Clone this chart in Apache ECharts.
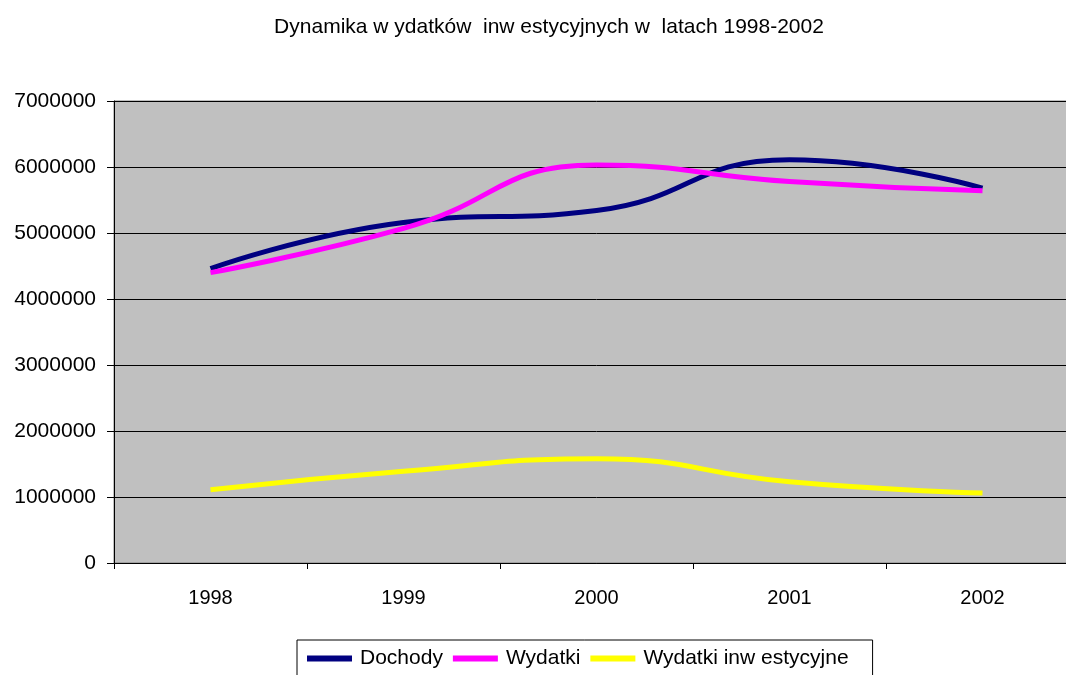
<!DOCTYPE html>
<html>
<head>
<meta charset="utf-8">
<script src="https://cdn.jsdelivr.net/npm/echarts@6/dist/echarts.min.js"></script>
<style>
  html, body { margin: 0; padding: 0; background: #fff; overflow: hidden; }
  #chart { width: 1079px; height: 675px; }
</style>
</head>
<body>
<div id="chart"></div>
<script>
var years = ['1998', '1999', '2000', '2001', '2002'];
var dochody = [4460000, 5160000, 5340000, 6110000, 5680000];
var wydatki = [4400000, 5070000, 6030000, 5780000, 5640000];
var wydatkiInw = [1110000, 1390000, 1580000, 1230000, 1060000];
var yTicks = { min: 0, max: 7000000, interval: 1000000 };

// plot area runs a bit past the right edge of the 1066 window, like the original
var chart = echarts.init(document.getElementById('chart'));
var font = 'Arial, "Liberation Sans", sans-serif';

var option = {
    animation: false,
    backgroundColor: '#fff',
    title: {
        text: 'Dynamika w ydatków  inw estycyjnych w  latach 1998-2002',
        left: 544,
        textAlign: 'center',
        top: 12,
        textStyle: { fontFamily: font, fontSize: 21, fontWeight: 'normal', color: '#000' }
    },
    legend: {
        bottom: -8,
        left: 297,
        padding: [8, 24, 14, 10],
        borderColor: '#000',
        borderWidth: 1,
        backgroundColor: '#fff',
        itemWidth: 45,
        itemHeight: 6,
        itemGap: 10,
        icon: 'rect',
        textStyle: { fontFamily: font, fontSize: 21, color: '#000', padding: [0, 0, 0, 3] },
        data: ['Dochody', 'Wydatki', 'Wydatki inw estycyjne']
    },
    grid: {
        left: 114,
        top: 101,
        width: 965,
        height: 462,
        show: true,
        backgroundColor: '#C0C0C0',
        borderColor: '#808080',
        borderWidth: 1
    },
    xAxis: {
        type: 'category',
        boundaryGap: true,
        data: years,
        axisLine: { lineStyle: { color: '#000', width: 1 } },
        axisTick: { show: true, length: 6, lineStyle: { color: '#000' } },
        axisLabel: { fontFamily: font, fontSize: 20, color: '#000', margin: 25 }
    },
    yAxis: {
        type: 'value',
        min: yTicks.min,
        max: yTicks.max,
        interval: yTicks.interval,
        axisLine: { show: true, lineStyle: { color: '#000', width: 1 } },
        axisTick: { show: true, length: 7, lineStyle: { color: '#000' } },
        axisLabel: {
            fontFamily: font, fontSize: 21, color: '#000', margin: 18,
            formatter: function (v) { return String(v); }
        },
        splitLine: { show: true, lineStyle: { color: '#000', width: 1 } }
    },
    series: [
        {
            name: 'Dochody',
            type: 'line',
            data: dochody,
            smooth: 0.5,
            showSymbol: false,
            lineStyle: { color: '#000080', width: 5 },
            itemStyle: { color: '#000080' }
        },
        {
            name: 'Wydatki',
            type: 'line',
            data: wydatki,
            smooth: 0.5,
            showSymbol: false,
            lineStyle: { color: '#FF00FF', width: 5 },
            itemStyle: { color: '#FF00FF' }
        },
        {
            name: 'Wydatki inw estycyjne',
            type: 'line',
            data: wydatkiInw,
            smooth: 0.5,
            showSymbol: false,
            lineStyle: { color: '#FFFF00', width: 5 },
            itemStyle: { color: '#FFFF00' }
        }
    ]
};

chart.setOption(option);
</script>
</body>
</html>
